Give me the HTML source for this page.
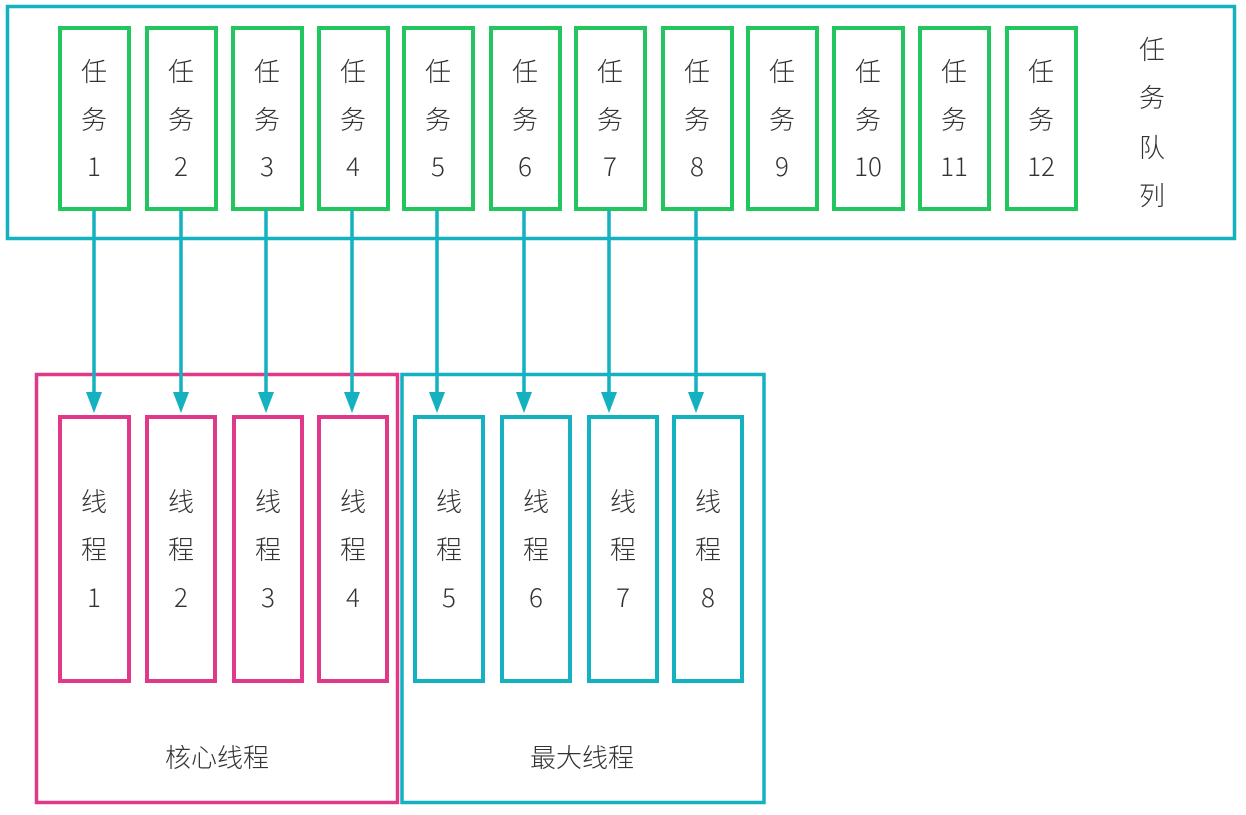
<!DOCTYPE html>
<html><head><meta charset="utf-8"><style>
html,body{margin:0;padding:0;background:#fff;}
svg text{font-family:"Noto Sans CJK SC","Liberation Sans",sans-serif;font-size:26px;font-weight:300;fill:#333;text-anchor:middle;}
</style></head><body>
<svg width="1246" height="810" viewBox="0 0 1246 810" xmlns="http://www.w3.org/2000/svg">
<rect x="7.5" y="6.5" width="1227" height="232" fill="none" stroke="#14b1c0" stroke-width="3.5"/>
<g fill="none" stroke="#22c55e" stroke-width="4">
<rect x="60" y="28" width="69" height="181"/>
<rect x="147" y="28" width="69" height="181"/>
<rect x="233" y="28" width="69" height="181"/>
<rect x="319" y="28" width="69" height="181"/>
<rect x="404" y="28" width="69" height="181"/>
<rect x="491" y="28" width="69" height="181"/>
<rect x="576" y="28" width="69" height="181"/>
<rect x="663" y="28" width="69" height="181"/>
<rect x="748" y="28" width="69" height="181"/>
<rect x="834" y="28" width="69" height="181"/>
<rect x="920" y="28" width="69" height="181"/>
<rect x="1007" y="28" width="69" height="181"/>
</g>
<g>
<text x="94" y="81">任</text><text x="94" y="129">务</text><text x="94" y="176">1</text>
<text x="181" y="81">任</text><text x="181" y="129">务</text><text x="181" y="176">2</text>
<text x="267" y="81">任</text><text x="267" y="129">务</text><text x="267" y="176">3</text>
<text x="353" y="81">任</text><text x="353" y="129">务</text><text x="353" y="176">4</text>
<text x="438" y="81">任</text><text x="438" y="129">务</text><text x="438" y="176">5</text>
<text x="525" y="81">任</text><text x="525" y="129">务</text><text x="525" y="176">6</text>
<text x="610" y="81">任</text><text x="610" y="129">务</text><text x="610" y="176">7</text>
<text x="697" y="81">任</text><text x="697" y="129">务</text><text x="697" y="176">8</text>
<text x="782" y="81">任</text><text x="782" y="129">务</text><text x="782" y="176">9</text>
<text x="868" y="81">任</text><text x="868" y="129">务</text><text x="868" y="176">10</text>
<text x="954" y="81">任</text><text x="954" y="129">务</text><text x="954" y="176">11</text>
<text x="1041" y="81">任</text><text x="1041" y="129">务</text><text x="1041" y="176">12</text>
<text x="1152" y="59">任</text><text x="1152" y="107">务</text><text x="1152" y="157">队</text><text x="1152" y="205">列</text>
</g>
<rect x="36.5" y="374.5" width="361" height="428" fill="none" stroke="#e0398a" stroke-width="3.5"/>
<rect x="402" y="374.5" width="362" height="428" fill="none" stroke="#14b1c0" stroke-width="3.5"/>
<g fill="none" stroke="#e0398a" stroke-width="4">
<rect x="60" y="417" width="69" height="264"/>
<rect x="147" y="417" width="68" height="264"/>
<rect x="234" y="417" width="68" height="264"/>
<rect x="319" y="417" width="68" height="264"/>
</g>
<g fill="none" stroke="#14b1c0" stroke-width="4">
<rect x="415" y="417" width="68" height="264"/>
<rect x="502" y="417" width="68" height="264"/>
<rect x="589" y="417" width="68" height="264"/>
<rect x="674" y="417" width="68" height="264"/>
</g>
<g>
<text x="94" y="511">线</text><text x="94" y="559">程</text><text x="94" y="607">1</text>
<text x="181" y="511">线</text><text x="181" y="559">程</text><text x="181" y="607">2</text>
<text x="268" y="511">线</text><text x="268" y="559">程</text><text x="268" y="607">3</text>
<text x="353" y="511">线</text><text x="353" y="559">程</text><text x="353" y="607">4</text>
<text x="449" y="511">线</text><text x="449" y="559">程</text><text x="449" y="607">5</text>
<text x="536" y="511">线</text><text x="536" y="559">程</text><text x="536" y="607">6</text>
<text x="623" y="511">线</text><text x="623" y="559">程</text><text x="623" y="607">7</text>
<text x="708" y="511">线</text><text x="708" y="559">程</text><text x="708" y="607">8</text>
<text x="217" y="767">核心线程</text>
<text x="582" y="767">最大线程</text>
</g>
<g stroke="#14b1c0" stroke-width="3.5" fill="#14b1c0">
<line x1="94" y1="210" x2="94" y2="398"/><polygon points="86,392 102,392 94,413" stroke="none"/>
<line x1="181" y1="210" x2="181" y2="398"/><polygon points="173,392 189,392 181,413" stroke="none"/>
<line x1="266" y1="210" x2="266" y2="398"/><polygon points="258,392 274,392 266,413" stroke="none"/>
<line x1="352" y1="210" x2="352" y2="398"/><polygon points="344,392 360,392 352,413" stroke="none"/>
<line x1="437" y1="210" x2="437" y2="398"/><polygon points="429,392 445,392 437,413" stroke="none"/>
<line x1="524" y1="210" x2="524" y2="398"/><polygon points="516,392 532,392 524,413" stroke="none"/>
<line x1="609" y1="210" x2="609" y2="398"/><polygon points="601,392 617,392 609,413" stroke="none"/>
<line x1="696" y1="210" x2="696" y2="398"/><polygon points="688,392 704,392 696,413" stroke="none"/>
</g>
</svg>
</body></html>
